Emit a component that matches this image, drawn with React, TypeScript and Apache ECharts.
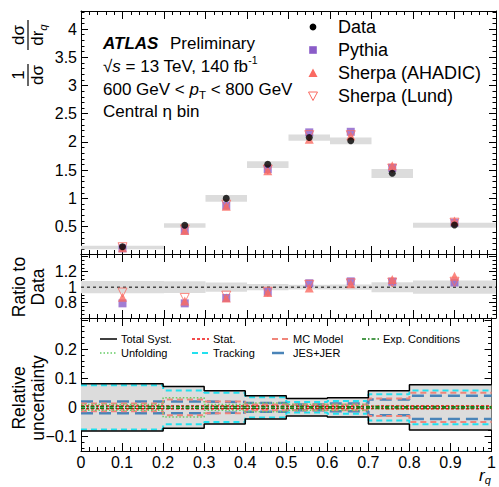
import React, { useEffect, useRef } from 'react';
import * as echarts from 'echarts';

const FONT = '"Liberation Sans", Arial, Helvetica, sans-serif';

// ---- data ----
const binEdges = [0, 0.2, 0.3, 0.4, 0.5, 0.6, 0.7, 0.8, 1.0];
const binCenters = [0.1, 0.25, 0.35, 0.45, 0.55, 0.65, 0.75, 0.9];
const dataValues = [0.145, 0.525, 1.0, 1.605, 2.08, 2.02, 1.447, 0.53];
const dataBandLo = [0.10, 0.48, 0.94, 1.54, 2.02, 1.96, 1.36, 0.48];
const dataBandHi = [0.16, 0.56, 1.06, 1.66, 2.13, 2.08, 1.52, 0.57];
const pythiaValues = [0.115, 0.43, 0.87, 1.52, 2.17, 2.18, 1.54, 0.57];
const ahadicValues = [0.125, 0.43, 0.86, 1.49, 2.05, 2.11, 1.58, 0.60];
const lundValues = [0.135, 0.45, 0.89, 1.51, 2.12, 2.12, 1.53, 0.57];

const pythiaRatio = [0.79, 0.79, 0.86, 0.94, 1.05, 1.075, 1.07, 1.06];
const ahadicRatio = [0.87, 0.82, 0.86, 0.93, 0.99, 1.045, 1.10, 1.14];
const lundRatio = [0.93, 0.86, 0.89, 0.94, 1.03, 1.05, 1.06, 1.07];
const ratioBand = [0.08, 0.075, 0.06, 0.04, 0.03, 0.035, 0.065, 0.085];

const totalSyst = [0.081, 0.072, 0.057, 0.04, 0.03, 0.033, 0.057, 0.078];
const trackingUnc = [0.076, 0.058, 0.05, 0.035, 0.018, 0.022, 0.045, 0.058];
const jesJerUnc = [0.02, 0.02, 0.018, 0.015, 0.01, 0.013, 0.027, 0.04];
const mcModelUnc = [0.013, 0.027, 0.02, 0.01, 0.01, 0.01, 0.03, 0.05];
const unfoldingUnc = [0.01, 0.033, 0.01, 0.015, 0.01, 0.01, 0.005, 0.003];
const statUnc = [0.005, 0.005, 0.005, 0.004, 0.004, 0.004, 0.005, 0.005];
const expCondUnc = [0.003, 0.003, 0.003, 0.003, 0.002, 0.002, 0.002, 0.002];

// ---- tick labels ----
const xTickLabels = [0, 0.1, 0.2, 0.3, 0.4, 0.5, 0.6, 0.7, 0.8, 0.9, 1];
const topYTicks = [0.5, 1, 1.5, 2, 2.5, 3, 3.5, 4];
const ratioYTicks = [0.8, 1, 1.2, 1.4];
const ratioYLabels = [0.8, 1, 1.2];
const uncYTicks = [-0.1, 0, 0.1, 0.2, 0.3];
const uncYLabels = [-0.1, 0, 0.1, 0.2];

const PURPLE = '#8a5cc8';
const SALMON = '#fa6a62';

function minors(min: number, max: number, step: number, majors: number[]) {
  const out: number[] = [];
  for (let k = Math.ceil(min / step - 1e-9); k * step <= max + 1e-9; k++) {
    const v = +(k * step).toFixed(6);
    if (!majors.some((m) => Math.abs(m - v) < 1e-9)) out.push(v);
  }
  return out;
}

const fmt = (v: number) => {
  const r = +(+v).toFixed(3);
  return r < 0 ? '\u2212' + String(-r) : String(r);
};

let ctx: CanvasRenderingContext2D | null = null;
function tw(text: string, size: number, style = 'normal', weight = 'normal') {
  if (!ctx) ctx = document.createElement('canvas').getContext('2d');
  ctx!.font = `${style} ${weight} ${size}px ${FONT}`;
  return ctx!.measureText(text).width;
}

type Part = { t: string; size: number; style?: string; weight?: string; dy?: number };
function row(parts: Part[], x: number, y: number) {
  let cx = x;
  const els: any[] = [];
  for (const p of parts) {
    els.push({
      type: 'text', x: cx, y: y + (p.dy || 0), z: 100,
      style: {
        text: p.t, fontSize: p.size, fontFamily: FONT, fontStyle: p.style || 'normal',
        fontWeight: p.weight || 'normal', fill: '#000',
        align: 'left', verticalAlign: 'middle', textAlign: 'left', textVerticalAlign: 'middle',
      },
    });
    cx += tw(p.t, p.size, p.style || 'normal', p.weight || 'normal');
  }
  return els;
}

function txt(t: string, x: number, y: number, size: number, opts: any = {}) {
  const el: any = {
    type: 'text', x, y, z: 100,
    style: {
      text: t, fontSize: size, fontFamily: FONT, fill: '#000',
      fontStyle: opts.style || 'normal', fontWeight: opts.weight || 'normal',
      align: opts.align || 'left', textAlign: opts.align || 'left',
      verticalAlign: opts.va || 'middle', textVerticalAlign: opts.va || 'middle',
    },
  };
  if (opts.rotation) el.rotation = opts.rotation;
  return el;
}

function buildOption() {
  const grids = [
    { left: 81, right: 3, top: 11, height: 243 },
    { left: 81, right: 3, top: 254, height: 64 },
    { left: 81, right: 3, top: 318, height: 133 },
  ];
  const xMinor = minors(0, 1, 0.02, xTickLabels);
  const xAxes: any[] = [];
  for (let g = 0; g < 3; g++) {
    const common = { type: 'value', gridIndex: g, min: 0, max: 1, splitLine: { show: false } };
    for (const pos of ['bottom', 'top']) {
      xAxes.push({
        ...common, position: pos,
        axisLine: { show: true, onZero: false, lineStyle: { color: '#000', width: 1 } },
        axisTick: { show: true, inside: true, length: 8, customValues: xTickLabels, lineStyle: { color: '#000', width: 1 } },
        axisLabel: {
          show: g === 2 && pos === 'bottom', customValues: xTickLabels, formatter: fmt, hideOverlap: false,
          fontSize: 16, fontFamily: FONT, color: '#000', margin: 3,
        },
      });
      xAxes.push({
        ...common, position: pos,
        axisLine: { show: false, onZero: false },
        axisTick: { show: true, inside: true, length: 4, customValues: xMinor, lineStyle: { color: '#000', width: 1 } },
        axisLabel: { show: false },
      });
    }
  }
  const yCfg = [
    { min: 0.015, max: 4.32, majors: topYTicks, labels: topYTicks, step: 0.1 },
    { min: 0.6, max: 1.43, majors: ratioYTicks, labels: ratioYLabels, step: 0.05 },
    { min: -0.15, max: 0.307, majors: uncYTicks, labels: uncYLabels, step: 0.02 },
  ];
  const yAxes: any[] = [];
  const extraLabelAxes: any[] = [];
  const labelStyle = { formatter: fmt, hideOverlap: false, fontSize: 16, fontFamily: FONT, color: '#000', margin: 4 };
  yCfg.forEach((c, g) => {
    const common = { type: 'value', gridIndex: g, min: c.min, max: c.max, splitLine: { show: false } };
    const mn = minors(c.min, c.max, c.step, c.majors);
    // alternate labels between two axes so that close labels never collide
    const labA = c.labels.filter((_, i) => i % 2 === 1);
    const labB = c.labels.filter((_, i) => i % 2 === 0);
    for (const pos of ['left', 'right']) {
      yAxes.push({
        ...common, position: pos,
        axisLine: { show: true, onZero: false, lineStyle: { color: '#000', width: 1 } },
        axisTick: { show: true, inside: true, length: 7, customValues: c.majors, lineStyle: { color: '#000', width: 1 } },
        axisLabel: { show: pos === 'left', customValues: labA, ...labelStyle },
      });
      yAxes.push({
        ...common, position: pos,
        axisLine: { show: false, onZero: false },
        axisTick: { show: true, inside: true, length: 3.5, customValues: mn, lineStyle: { color: '#000', width: 1 } },
        axisLabel: { show: false },
      });
    }
    extraLabelAxes.push({
      ...common, position: 'left',
      axisLine: { show: false, onZero: false },
      axisTick: { show: false },
      axisLabel: { show: true, customValues: labB, ...labelStyle },
    });
  });
  yAxes.push(...extraLabelAxes);

  const rectRender = (fill: string) => (params: any, api: any) => {
    const a = api.coord([api.value(0), api.value(3)]);
    const b = api.coord([api.value(1), api.value(2)]);
    return { type: 'rect', shape: { x: a[0], y: a[1], width: b[0] - a[0], height: b[1] - a[1] }, style: { fill } };
  };

  const series: any[] = [];
  // ---- top panel ----
  series.push({
    type: 'custom', name: 'Data unc', xAxisIndex: 0, yAxisIndex: 0, renderItem: rectRender('#dcdcdc'),
    encode: { x: [0, 1], y: [2, 3] }, z: 1,
    data: dataValues.map((_, i) => [binEdges[i], binEdges[i + 1], dataBandLo[i], dataBandHi[i]]),
  });
  const sc = (name: string, xi: number, vals: number[], extra: any, z: number) => ({
    type: 'scatter', name, xAxisIndex: xi, yAxisIndex: xi, z,
    data: vals.map((v, i) => [binCenters[i], v]), ...extra,
  });
  const pythiaStyle = { symbol: 'rect', symbolSize: 8, itemStyle: { color: PURPLE } };
  const lundStyle = {
    symbol: 'triangle', symbolRotate: 180, symbolSize: 9,
    itemStyle: { color: 'rgba(255,255,255,0)', borderColor: SALMON, borderWidth: 1 },
  };
  const ahadicStyle = { symbol: 'triangle', symbolSize: 9, itemStyle: { color: SALMON } };
  series.push(sc('Pythia', 0, pythiaValues, pythiaStyle, 3));
  series.push(sc('Sherpa (Lund)', 0, lundValues, lundStyle, 4));
  series.push(sc('Sherpa (AHADIC)', 0, ahadicValues, ahadicStyle, 5));
  series.push(sc('Data', 0, dataValues, { symbol: 'circle', symbolSize: 7, itemStyle: { color: '#000' } }, 6));

  // ---- ratio panel ----
  series.push({
    type: 'custom', name: 'Ratio unc', xAxisIndex: 4, yAxisIndex: 4, renderItem: rectRender('#dcdcdc'),
    encode: { x: [0, 1], y: [2, 3] }, z: 1,
    data: ratioBand.map((u, i) => [binEdges[i], binEdges[i + 1], 1 - u, 1 + u]),
  });
  series.push({
    type: 'line', name: 'unity', xAxisIndex: 4, yAxisIndex: 4, symbol: 'none', z: 2,
    data: [[0, 1], [1, 1]], lineStyle: { color: '#000', width: 1, type: [3, 3] },
  });
  series.push(sc('Pythia ratio', 4, pythiaRatio, pythiaStyle, 3));
  series.push(sc('Lund ratio', 4, lundRatio, lundStyle, 4));
  series.push(sc('AHADIC ratio', 4, ahadicRatio, ahadicStyle, 5));

  // ---- uncertainty panel ----
  series.push({
    type: 'custom', name: 'Total fill', xAxisIndex: 8, yAxisIndex: 8, renderItem: rectRender('#dcdcdc'),
    encode: { x: [0, 1], y: [2, 3] }, z: 1,
    data: totalSyst.map((u, i) => [binEdges[i], binEdges[i + 1], -u, u]),
  });
  const stepData = (vals: number[], sign: number) =>
    binEdges.map((e, i) => [e, sign * vals[Math.min(i, vals.length - 1)]]);
  const comp = (name: string, vals: number[], color: string, width: number, dash: any, z: number) => {
    for (const s of [1, -1]) {
      series.push({
        type: 'line', name, xAxisIndex: 8, yAxisIndex: 8, step: 'end', symbol: 'none', z,
        data: stepData(vals, s), lineStyle: { color, width, type: dash },
      });
    }
  };
  comp('Tracking', trackingUnc, '#22e0ee', 2, [6, 4], 3);
  comp('JES+JER', jesJerUnc, '#4a84b8', 2.5, [12, 6], 4);
  comp('MC Model', mcModelUnc, '#f0857a', 2, [6, 4], 5);
  comp('Unfolding', unfoldingUnc, '#66cc66', 1.5, [1.5, 2], 6);
  comp('Stat.', statUnc, '#ee1111', 1.5, [3, 2], 7);
  comp('Exp. Conditions', expCondUnc, '#127a12', 1.5, [4, 2, 1.5, 2], 8);
  comp('Total Syst.', totalSyst, '#000', 1.5, 'solid', 9);

  // ---- graphic ----
  const els: any[] = [];
  els.push(...row([{ t: 'ATLAS', size: 17, style: 'italic', weight: 'bold' }], 103, 43));
  els.push(...row([{ t: 'Preliminary', size: 17 }], 170, 43));
  els.push(...row([
    { t: '\u221A', size: 17 }, { t: 's', size: 17, style: 'italic' },
    { t: ' = 13 TeV, 140 fb', size: 17 }, { t: '-1', size: 10.5, dy: -6 },
  ], 103, 66));
  els.push(...row([
    { t: '600 GeV < ', size: 17 }, { t: 'p', size: 17, style: 'italic' },
    { t: 'T', size: 11.5, dy: 6 }, { t: ' < 800 GeV', size: 17 },
  ], 103, 89));
  els.push(...row([{ t: 'Central \u03B7 bin', size: 17 }], 103, 111));

  // top legend
  const lx = 313, tx = 338;
  els.push({ type: 'circle', z: 100, shape: { cx: lx, cy: 27, r: 3.4 }, style: { fill: '#000' } });
  els.push(txt('Data', tx, 27, 18));
  els.push({ type: 'rect', z: 100, shape: { x: lx - 3.8, y: 50 - 3.8, width: 7.6, height: 7.6 }, style: { fill: PURPLE } });
  els.push(txt('Pythia', tx, 50, 18));
  els.push({ type: 'polygon', z: 100, shape: { points: [[lx, 68.5], [lx + 4.5, 77], [lx - 4.5, 77]] }, style: { fill: SALMON } });
  els.push(txt('Sherpa (AHADIC)', tx, 73, 18));
  els.push({ type: 'polygon', z: 100, shape: { points: [[lx - 4.5, 92], [lx + 4.5, 92], [lx, 100.5]] }, style: { fill: 'none', stroke: SALMON, lineWidth: 1 } });
  els.push(txt('Sherpa (Lund)', tx, 96, 18));

  // bottom legend
  const leg = (label: string, x: number, y: number, color: string, width: number, dash: any) => {
    els.push({ type: 'line', z: 100, shape: { x1: x, y1: y, x2: x + 17, y2: y }, style: { stroke: color, lineWidth: width, lineDash: dash } });
    els.push(txt(label, x + 21, y, 11));
  };
  leg('Total Syst.', 100, 339, '#000', 1.5, null);
  leg('Stat.', 192, 339, '#ee1111', 1.5, [3, 2]);
  leg('MC Model', 272, 339, '#f0857a', 2, [6, 4]);
  leg('Exp. Conditions', 362, 339, '#127a12', 1.5, [4, 2, 1.5, 2]);
  leg('Unfolding', 100, 353, '#66cc66', 1.5, [1.5, 2]);
  leg('Tracking', 192, 353, '#22e0ee', 2, [6, 4]);
  leg('JES+JER', 272, 353, '#4a84b8', 2.5, [12, 6]);

  // top y-axis title: rotated fractions "1/dσ · dσ/dr_q"
  const X0 = 28, Y0 = 75; // centre of first fraction bar
  const R = Math.PI / 2;
  const drW = tw('dr', 17);
  const qW = tw('q', 11.5, 'italic');
  const dStart = 40 - (drW + qW) / 2;
  els.push(txt('1', X0 - 1, Y0, 17, { rotation: R, align: 'center', va: 'bottom' }));
  els.push({ type: 'line', z: 100, shape: { x1: X0, y1: Y0 - 11, x2: X0, y2: Y0 + 11 }, style: { stroke: '#000', lineWidth: 1.2 } });
  els.push(txt('d\u03C3', X0 + 1, Y0, 17, { rotation: R, align: 'center', va: 'top' }));
  els.push(txt('d\u03C3', X0 - 1, Y0 - 40, 17, { rotation: R, align: 'center', va: 'bottom' }));
  els.push({ type: 'line', z: 100, shape: { x1: X0, y1: Y0 - 55, x2: X0, y2: Y0 - 25 }, style: { stroke: '#000', lineWidth: 1.2 } });
  els.push(txt('dr', X0 + 1, Y0 - dStart, 17, { rotation: R, align: 'left', va: 'top' }));
  els.push(txt('q', X0 + 9, Y0 - dStart - drW, 11.5, { rotation: R, align: 'left', va: 'top', style: 'italic' }));

  els.push({
    type: 'text', x: 28, y: 287, rotation: R, z: 100,
    style: { text: 'Ratio to\nData', fontSize: 17.5, fontFamily: FONT, fill: '#000', align: 'center', textAlign: 'center', verticalAlign: 'middle', textVerticalAlign: 'middle', lineHeight: 19 },
  });
  els.push({
    type: 'text', x: 28.5, y: 398, rotation: R, z: 100,
    style: { text: 'Relative\nuncertainty', fontSize: 17.5, fontFamily: FONT, fill: '#000', align: 'center', textAlign: 'center', verticalAlign: 'middle', textVerticalAlign: 'middle', lineHeight: 19 },
  });
  // x-axis title r_q
  const rW = tw('r', 17, 'italic');
  els.push(txt('r', 479, 475, 17, { style: 'italic' }));
  els.push(txt('q', 479 + rW, 479.5, 11, { style: 'italic' }));

  return {
    animation: false,
    backgroundColor: '#fff',
    grid: grids,
    xAxis: xAxes,
    yAxis: yAxes,
    series,
    graphic: { elements: els },
  };
}

export default function App() {
  const ref = useRef<HTMLDivElement>(null);
  useEffect(() => {
    const chart = echarts.init(ref.current!, null, { renderer: 'svg' });
    chart.setOption(buildOption() as any);
    return () => chart.dispose();
  }, []);
  return <div ref={ref} style={{ position: 'fixed', left: 0, top: 0, width: 499, height: 487 }} />;
}
